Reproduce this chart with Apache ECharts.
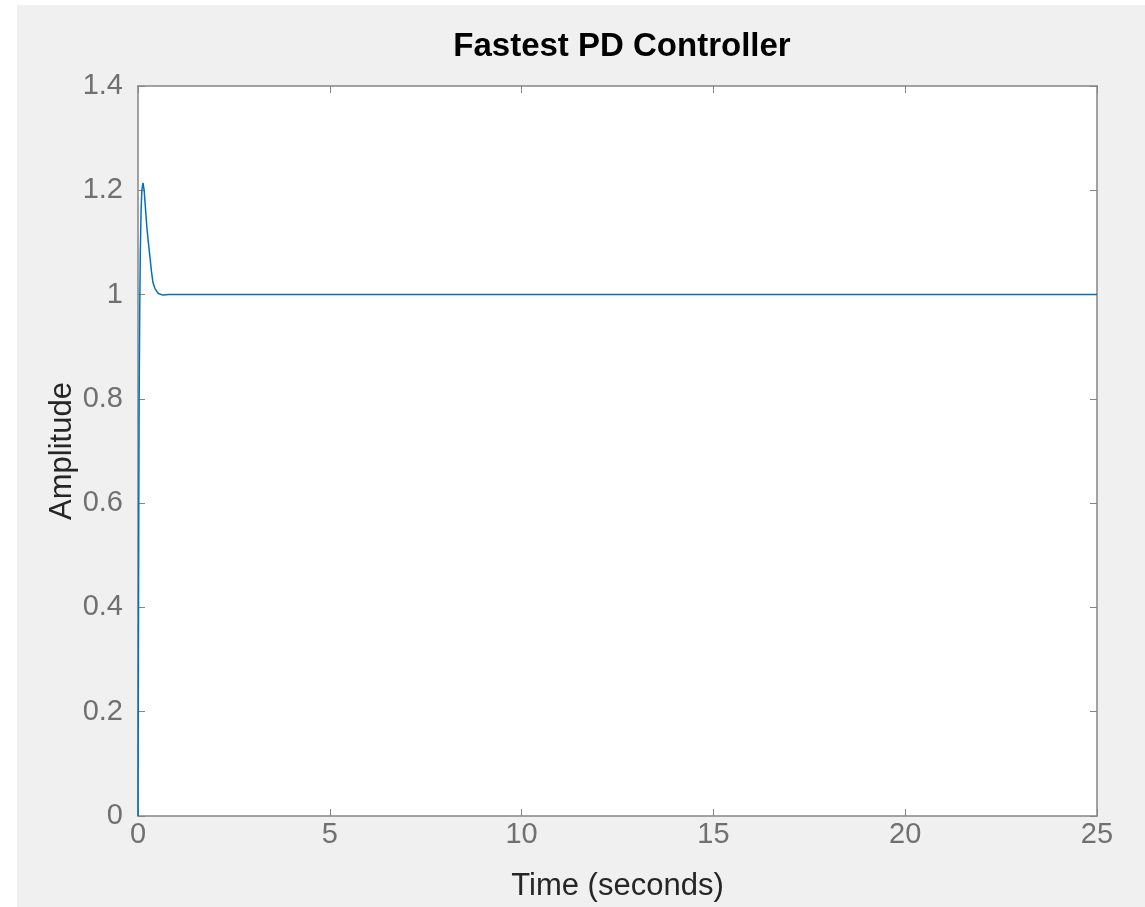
<!DOCTYPE html>
<html>
<head>
<meta charset="utf-8">
<script src="https://cdn.jsdelivr.net/npm/echarts@6/dist/echarts.min.js"></script>
<style>
html,body{margin:0;padding:0;background:#fff;}
#chart{width:1145px;height:907px;}
</style>
</head>
<body>
<div id="chart"></div>
<script>
const titleText = 'Fastest PD Controller';
const xName = 'Time (seconds)';
const yName = 'Amplitude';
const timeVals = [0, 0.01, 0.02, 0.03, 0.045, 0.06, 0.08, 0.1, 0.13, 0.16, 0.2, 0.23, 0.27, 0.31, 0.35, 0.39, 0.44, 0.49, 0.53, 0.57, 0.65, 0.8, 1, 2, 5, 10, 15, 20, 25];
const ampVals  = [0, 0.3, 0.58, 0.8, 0.97, 1.08, 1.16, 1.2, 1.214, 1.2, 1.16, 1.13, 1.1, 1.073, 1.045, 1.023, 1.012, 1.006, 1.002, 1.0, 0.999, 1.0, 1.0, 1.0, 1.0, 1.0, 1.0, 1.0, 1.0];
const xTicks = [0, 5, 10, 15, 20, 25];
const yTicks = [0, 0.2, 0.4, 0.6, 0.8, 1, 1.2, 1.4];

const chart = echarts.init(document.getElementById('chart'), null, {renderer: 'canvas'});
const axisColor = '#858585';
const labelColor = '#707070';
const font = 'Liberation Sans, Arial, Helvetica, sans-serif';
function baseAxis() {
  return {
    axisLine: {show: true, onZero: false, lineStyle: {color: axisColor, width: 1.5}},
    axisTick: {show: true, inside: true, length: 7, lineStyle: {color: axisColor, width: 1}},
    splitLine: {show: false}
  };
}
chart.setOption({
  animation: false,
  backgroundColor: '#fff',
  graphic: [{type: 'rect', z: -10, shape: {x: 17, y: 5, width: 1145, height: 907}, style: {fill: '#f0f0f0'}}],
  title: {
    text: titleText, left: 617, top: 25, textAlign: 'center',
    textStyle: {fontFamily: font, fontSize: 33, fontWeight: 'bold', color: '#000'}
  },
  grid: {left: 138, right: 48, top: 86, bottom: 89, show: true, backgroundColor: '#fff', borderWidth: 0},
  xAxis: [
    Object.assign(baseAxis(), {
      type: 'value', min: 0, max: 25, interval: 5, position: 'bottom',
      name: xName, nameLocation: 'middle', nameGap: 55, nameMoveOverlap: false,
      nameTextStyle: {fontFamily: font, fontSize: 31, color: '#262626'},
      axisLabel: {fontFamily: font, fontSize: 29, color: labelColor, margin: 4,
        formatter: v => xTicks.includes(v) ? String(v) : ''}
    }),
    Object.assign(baseAxis(), {
      type: 'value', min: 0, max: 25, interval: 5, position: 'top',
      axisLabel: {show: false}
    })
  ],
  yAxis: [
    Object.assign(baseAxis(), {
      type: 'value', min: 0, max: 1.4, interval: 0.2, position: 'left',
      name: yName, nameLocation: 'middle', nameGap: 60, nameRotate: 90, nameMoveOverlap: false,
      nameTextStyle: {fontFamily: font, fontSize: 31, color: '#262626'},
      axisLabel: {fontFamily: font, fontSize: 29, color: labelColor, margin: 15,
        formatter: v => { const t = yTicks.find(y => Math.abs(y - v) < 1e-9); return t === undefined ? '' : String(t); }}
    }),
    Object.assign(baseAxis(), {
      type: 'value', min: 0, max: 1.4, interval: 0.2, position: 'right',
      axisLabel: {show: false}
    })
  ],
  series: [{
    type: 'line',
    xAxisIndex: 0, yAxisIndex: 0,
    data: timeVals.map((t, i) => [t, ampVals[i]]),
    showSymbol: false,
    smooth: false,
    lineStyle: {color: '#0072BD', width: 1.5},
    clip: true
  }]
});
</script>
</body>
</html>
